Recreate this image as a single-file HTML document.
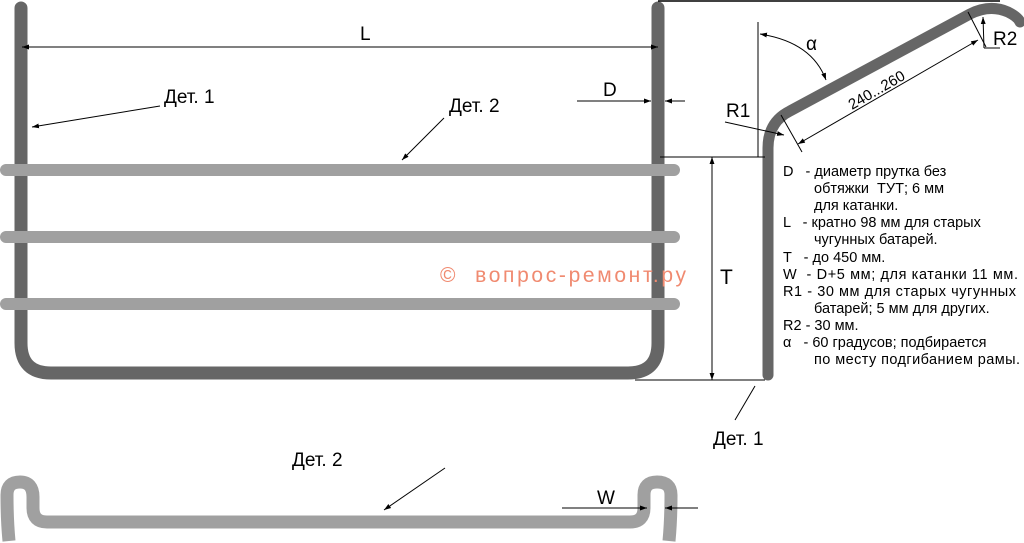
<!DOCTYPE html>
<html><head><meta charset="utf-8"><style>
html,body{margin:0;padding:0;background:#fff;}
svg{display:block;font-family:"Liberation Sans",sans-serif;}
text{white-space:pre;}
</style></head><body>
<svg width="1024" height="543" viewBox="0 0 1024 543" xmlns="http://www.w3.org/2000/svg">
<defs>
<marker id="a" viewBox="0 0 10 10" refX="10" refY="5" markerWidth="7" markerHeight="7" orient="auto-start-reverse"><path d="M0,1.5 L10,5 L0,8.5z" fill="#000"/></marker>
</defs>
<path d="M21,8 V343 Q21,373 51,373 H628 Q658,373 658,343 V8" fill="none" stroke="#666" stroke-width="13" stroke-linecap="round"/>
<g stroke="#a0a0a0" stroke-width="12" stroke-linecap="round">
<line x1="6" y1="170" x2="674" y2="170"/>
<line x1="6" y1="237" x2="674" y2="237"/>
<line x1="6" y1="304" x2="674" y2="304"/>
</g>
<line x1="658" y1="1" x2="1000" y2="1" stroke="#000" stroke-width="1.5"/>
<path d="M768,375 V148 Q768,122 790,111 L970,14 Q990,4 1008,12 Q1018,17 1020,22" fill="none" stroke="#666" stroke-width="11" stroke-linecap="round"/>
<path d="M9,541 Q7,520 7,495 Q7,482 20,482 Q33,482 33,497 V508 Q33,522 47,522 H630 Q644,522 644,508 V495 Q644,482 657,482 Q671,482 671,495 Q671,520 669,541" fill="none" stroke="#a0a0a0" stroke-width="13"/>
<g stroke="#000" stroke-width="1" fill="none">
<line x1="22" y1="47" x2="658" y2="47" marker-start="url(#a)" marker-end="url(#a)"/>
<line x1="160" y1="106" x2="32" y2="127" marker-end="url(#a)"/>
<line x1="444" y1="118" x2="402" y2="160" marker-end="url(#a)"/>
<line x1="577" y1="101" x2="651" y2="101" marker-end="url(#a)"/>
<line x1="685" y1="101" x2="665" y2="101" marker-end="url(#a)"/>
<line x1="660" y1="157" x2="765" y2="157"/>
<line x1="635" y1="380" x2="765" y2="380"/>
<line x1="712" y1="157" x2="712" y2="380" marker-start="url(#a)" marker-end="url(#a)"/>
<line x1="758" y1="22" x2="758" y2="157"/>
<path d="M760,34 Q812,42 826,80" marker-start="url(#a)" marker-end="url(#a)"/>
<line x1="781" y1="115" x2="802" y2="152"/>
<line x1="968" y1="12" x2="986" y2="47"/>
<line x1="798" y1="144" x2="978" y2="40" marker-start="url(#a)" marker-end="url(#a)"/>
<line x1="725" y1="122" x2="784" y2="135" marker-end="url(#a)"/>
<line x1="1000" y1="48" x2="984" y2="48"/>
<line x1="984" y1="48" x2="983" y2="17" marker-end="url(#a)"/>
<line x1="755" y1="386" x2="735" y2="420"/>
<line x1="445" y1="468" x2="384" y2="510" marker-end="url(#a)"/>
<line x1="562" y1="508" x2="647" y2="508" marker-end="url(#a)"/>
<line x1="698" y1="508" x2="665" y2="508" marker-end="url(#a)"/>
</g>
<g font-size="19" fill="#000">
<text x="360" y="40">L</text>
<text x="164" y="103">Дет. 1</text>
<text x="449" y="112">Дет. 2</text>
<text x="603" y="96">D</text>
<text x="720" y="284" font-size="21">T</text>
<text x="806" y="50">α</text>
<text x="726" y="117">R1</text>
<text x="993" y="45">R2</text>
<text x="713" y="445">Дет. 1</text>
<text x="292" y="466">Дет. 2</text>
<text x="597" y="504">W</text>
<text x="0" y="0" font-size="15" transform="translate(852,110) rotate(-30)">240...260</text>
</g>
<text x="440" y="282" font-size="21" fill="#f08a70" textLength="246">©  вопрос-ремонт.ру</text>
<g font-size="14.5" fill="#000">
<text x="783" y="176">D   - диаметр прутка без</text>
<text x="814" y="193">обтяжки  ТУТ; 6 мм</text>
<text x="814" y="210">для катанки.</text>
<text x="783" y="227">L   - кратно 98 мм для старых</text>
<text x="814" y="244">чугунных батарей.</text>
<text x="783" y="262">T   - до 450 мм.</text>
<text x="783" y="279" textLength="235">W  - D+5 мм; для катанки 11 мм.</text>
<text x="783" y="296" textLength="233">R1 - 30 мм для старых чугунных</text>
<text x="814" y="313">батарей; 5 мм для других.</text>
<text x="783" y="330">R2 - 30 мм.</text>
<text x="783" y="347">α   - 60 градусов; подбирается</text>
<text x="814" y="364" textLength="206">по месту подгибанием рамы.</text>
</g>
</svg>
</body></html>
